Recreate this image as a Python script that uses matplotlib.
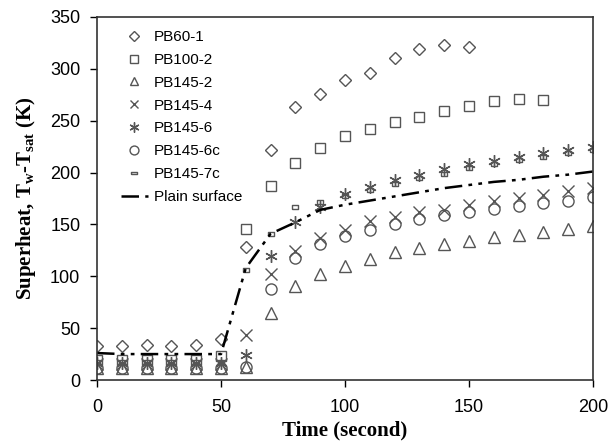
import numpy as np
import matplotlib.pyplot as plt
from matplotlib.path import Path

# data
t = [0, 10, 20, 30, 40, 50, 60, 70, 80, 90, 100, 110, 120, 130, 140, 150,
     160, 170, 180, 190, 200]

pb60_1 = [33, 33, 34, 33, 34, 40, 128, 222, 263, 276, 289, 296, 310, 319, 323, 321]
pb100_2 = [19, 19, 19, 19, 19, 23, 146, 187, 209, 224, 235, 242, 249, 254, 259,
           264, 269, 271, 270]
pb145_2 = [12, 12, 12, 12, 12, 12, 13, 65, 91, 102, 110, 117, 123, 127, 131, 134,
           138, 140, 143, 146, 148]
pb145_4 = [15, 15, 15, 15, 15, 15, 43, 102, 124, 137, 145, 153, 157, 162, 164, 169,
           173, 175, 178, 182, 185]
pb145_6 = [16, 16, 16, 16, 16, 16, 24, 120, 152, 167, 179, 186, 193, 198, 203, 208,
           211, 215, 219, 222, 225]
pb145_6c = [12, 12, 12, 12, 12, 12, 13, 88, 118, 131, 139, 145, 150, 155, 159, 162,
            165, 168, 171, 173, 176]
pb145_7c = [17, 17, 17, 17, 17, 17, 106, 141, 167, 172, 177, 183, 189, 195, 199, 204,
            208, 212, 215, 219, 222]
plain = [26, 25, 25, 25, 25, 25, 108, 141, 152, 164, 169, 173, 177, 181, 185, 188,
         191, 193, 196, 198, 201]

rect = Path([(-1, -0.45), (1, -0.45), (1, 0.45), (-1, 0.45), (-1, -0.45)])

plt.rcParams['font.family'] = ['Liberation Sans', 'DejaVu Sans']

fig = plt.figure(figsize=(6.12, 4.41), dpi=100)
ax = fig.add_axes([0.1585, 0.1383, 0.8105, 0.8232])

ec = '#555555'
series = [
    ('PB60-1', pb60_1, 'D', 6),
    ('PB100-2', pb100_2, 's', 7.5),
    ('PB145-2', pb145_2, '^', 8),
    ('PB145-4', pb145_4, 'x', 8),
    ('PB145-6', pb145_6, (6, 2, 0), 9),
    ('PB145-6c', pb145_6c, 'o', 8),
    ('PB145-7c', pb145_7c, rect, 5),
]
for name, vals, m, ms in series:
    ax.plot(t[:len(vals)], vals, linestyle='none', marker=m, ms=ms,
            mfc='none', mec=ec, mew=1.0, label=name)

ax.plot(t, plain, color='black', lw=1.8, dashes=[7, 2.5, 1.5, 2.5, 1.5, 2.5],
        label='Plain surface')

ax.set_xlim(0, 200)
ax.set_ylim(0, 350)
ax.set_xticks([0, 50, 100, 150, 200])
ax.set_yticks(range(0, 351, 50))
ax.tick_params(direction='out', length=5, width=1, labelsize=13)
ax.tick_params(axis='x', pad=9)
ax.tick_params(axis='y', pad=7)
for s in ax.spines.values():
    s.set_color('#333333')
    s.set_linewidth(1.2)

ax.set_xlabel('Time (second)', family='Liberation Serif', fontweight='bold',
              fontsize=15, labelpad=3)
ax.set_ylabel('Superheat, T$_\\mathregular{w}$-T$_\\mathregular{sat}$ (K)',
              family='Liberation Serif', fontweight='bold', fontsize=15, labelpad=9)

ax.legend(loc='upper left', frameon=False, fontsize=11, handlelength=1.75,
          handletextpad=0.4, labelspacing=0.58, markerscale=0.8,
          bbox_to_anchor=(0.036, 0.981), borderaxespad=0)

fig.savefig('out.png', dpi=100)
